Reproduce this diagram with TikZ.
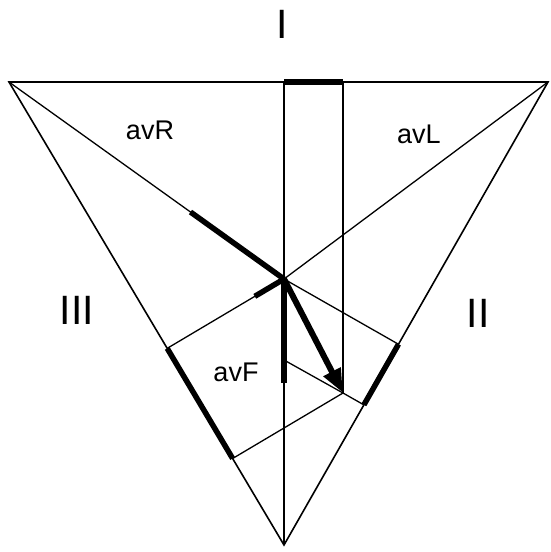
\documentclass[tikz,border=0pt]{standalone}
\usepackage{fontspec}
\setmainfont{Liberation Sans}
\usetikzlibrary{arrows.meta,calc}
\tikzset{
  >={Triangle[length=24pt,width=18pt]},
  side/.style  ={line width=1.6pt,black},
  proj/.style  ={line width=1.3pt,black},
  seg/.style   ={line width=5.5pt,black},
  vec/.style   ={->,line width=6pt,black},
  lead/.style  ={font=\fontsize{41}{45}\selectfont,anchor=base},
  alead/.style ={font=\fontsize{27}{31}\selectfont,anchor=base},
}

\begin{document}
\begin{tikzpicture}[x=1pt,y=-1pt]
\useasboundingbox (0,0) rectangle (550,552);
\coordinate (RA) at (9,82);
\coordinate (LA) at (548,82);
\coordinate (LL) at (284,545);
\coordinate (O) at (284,279);
\coordinate (tip) at (343,393);
\coordinate (T0) at (O |- RA);
\coordinate (T1) at (tip |- RA);
\coordinate (F2a) at ($(LA)!(O)!(LL)$);
\coordinate (F2b) at ($(LA)!(tip)!(LL)$);
\coordinate (F3a) at ($(RA)!(O)!(LL)$);
\coordinate (F3b) at ($(RA)!(tip)!(LL)$);
\coordinate (Fend) at (284,383);
\coordinate (Fmid) at (284,360);
\coordinate (R1) at ($(O)!0.34!(RA)$);
\coordinate (L1) at ($(O)!0.25!(F3a)$);
\draw[side] (RA) -- (LA) -- (LL) -- cycle;
\draw[proj] (RA) -- (O);
\draw[proj] (LA) -- (O);
\draw[proj] (T0) -- (LL);
\draw[proj] (T1) -- (tip);
\draw[proj] (O) -- (F2a);
\draw[proj] (tip) -- (F2b);
\draw[proj] (O) -- (F3a);
\draw[proj] (tip) -- (F3b);
\draw[proj] (Fmid) -- (tip);
\draw[seg] (T0) -- (T1);
\draw[seg] (F2a) -- (F2b);
\draw[seg] (F3a) -- (F3b);
\draw[seg] (O) -- (Fend);
\draw[seg] (O) -- (R1);
\draw[seg] (O) -- (L1);
\draw[vec] (O) -- (tip);
\node[lead] (lI) at (282,38) {I};
\node[lead] (lII) at (478,327) {II};
\node[lead] (lIII) at (77,324) {III};
\node[alead] (lR) at (150,139) {avR};
\node[alead] (lL) at (419,143) {avL};
\node[alead] (lF) at (236,381) {avF};
\end{tikzpicture}
\end{document}
